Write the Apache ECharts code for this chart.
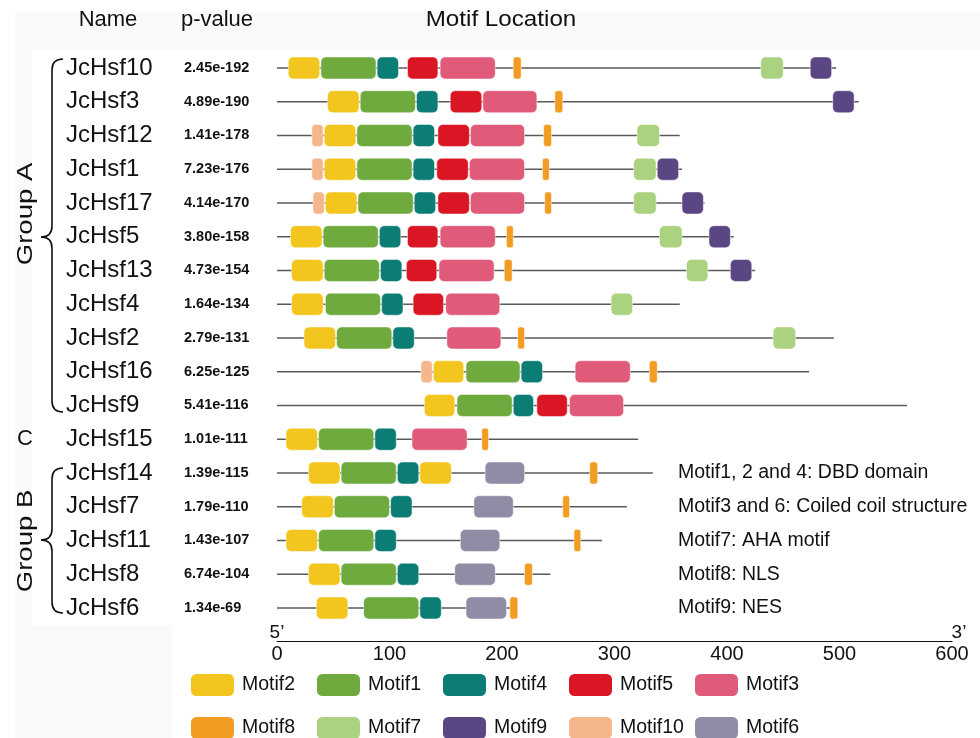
<!DOCTYPE html>
<html>
<head>
<meta charset="utf-8">
<script src="https://cdn.jsdelivr.net/npm/echarts@6/dist/echarts.min.js"></script>
<style>
  html, body { margin: 0; padding: 0; background: #ffffff; }
  #chart { width: 980px; height: 738px; }
</style>
</head>
<body>
<div id="chart"></div>
<script>
// Hsf protein names, top to bottom
const genes = ['JcHsf10', 'JcHsf3', 'JcHsf12', 'JcHsf1', 'JcHsf17', 'JcHsf5', 'JcHsf13', 'JcHsf4',
  'JcHsf2', 'JcHsf16', 'JcHsf9', 'JcHsf15', 'JcHsf14', 'JcHsf7', 'JcHsf11', 'JcHsf8', 'JcHsf6'];

// combined motif p-values
const pValues = ['2.45e-192', '4.89e-190', '1.41e-178', '7.23e-176', '4.14e-170', '3.80e-158', '4.73e-154',
  '1.64e-134', '2.79e-131', '6.25e-125', '5.41e-116', '1.01e-111', '1.39e-115', '1.79e-110', '1.43e-107',
  '6.74e-104', '1.34e-69'];

// protein length (aa)
const seqLengths = [497, 517, 358, 360, 380, 406, 425, 358, 495, 473, 560, 321, 334, 311, 289, 243, 214];

// motif hits per protein: [motif number, start, end]
const motifHits = [
  [[2, 10, 38], [1, 39, 88], [4, 89, 108], [5, 116, 143], [3, 145, 194], [8, 210, 217], [7, 430, 450], [9, 474, 493]],
  [[2, 45, 73], [1, 74, 123], [4, 124, 143], [5, 154, 182], [3, 183, 231], [8, 247, 254], [9, 494, 513]],
  [[10, 31, 41], [2, 42, 70], [1, 71, 120], [4, 121, 140], [5, 143, 171], [3, 172, 220], [8, 237, 244], [7, 320, 340]],
  [[10, 31, 41], [2, 42, 70], [1, 71, 120], [4, 121, 140], [5, 142, 170], [3, 171, 220], [8, 236, 242], [7, 317, 337], [9, 338, 357]],
  [[10, 32, 42], [2, 43, 71], [1, 72, 121], [4, 122, 141], [5, 143, 171], [3, 172, 220], [8, 238, 244], [7, 317, 337], [9, 360, 379]],
  [[2, 12, 40], [1, 41, 90], [4, 91, 110], [5, 116, 143], [3, 145, 194], [8, 204, 210], [7, 340, 360], [9, 384, 403]],
  [[2, 13, 41], [1, 42, 91], [4, 92, 111], [5, 115, 142], [3, 144, 193], [8, 202, 209], [7, 364, 383], [9, 403, 422]],
  [[2, 13, 41], [1, 43, 92], [4, 93, 112], [5, 121, 148], [3, 150, 198], [7, 297, 316]],
  [[2, 24, 52], [1, 53, 102], [4, 103, 122], [3, 151, 199], [8, 214, 220], [7, 441, 461]],
  [[10, 128, 138], [2, 139, 166], [1, 168, 216], [4, 217, 236], [3, 265, 314], [8, 331, 338]],
  [[2, 131, 158], [1, 160, 209], [4, 210, 228], [5, 231, 258], [3, 260, 308]],
  [[2, 8, 36], [1, 37, 86], [4, 87, 106], [3, 120, 169], [8, 182, 188]],
  [[2, 28, 56], [1, 57, 106], [4, 107, 126], [2, 127, 155], [6, 185, 220], [8, 278, 285]],
  [[2, 22, 50], [1, 51, 100], [4, 101, 120], [6, 175, 210], [8, 254, 260]],
  [[2, 8, 36], [1, 37, 86], [4, 87, 106], [6, 163, 198], [8, 264, 270]],
  [[2, 28, 56], [1, 57, 106], [4, 107, 126], [6, 158, 194], [8, 220, 227]],
  [[2, 35, 63], [1, 77, 126], [4, 127, 146], [6, 168, 204], [8, 207, 214]]
];

// legend order, two rows
const legendRow1 = [2, 1, 4, 5, 3];
const legendRow2 = [8, 7, 9, 10, 6];

// axis ticks
const axisMin = 0, axisMax = 600, axisStep = 100;

// functional annotation notes
const notes = ['Motif1, 2 and 4: DBD domain', 'Motif3 and 6: Coiled coil structure', 'Motif7: AHA motif',
  'Motif8: NLS', 'Motif9: NES'];

const palette = {
  1: '#6EAA3E', 2: '#F2C61F', 3: '#E05A7A', 4: '#0C7D74', 5: '#DA1624',
  6: '#908CA6', 7: '#ABD27F', 8: '#F39C22', 9: '#5A4682', 10: '#F4B68A'
};

const FONT = '"Liberation Sans", Arial, Helvetica, sans-serif';
const BOX_H = 22;

const chart = echarts.init(document.getElementById('chart'), null, { renderer: 'canvas' });

// backbone line for each protein
const backboneSeries = {
  type: 'custom',
  name: 'backbone',
  silent: true,
  z: 1,
  encode: { x: [0, 1], y: 2 },
  data: seqLengths.map((len, i) => [0, len, i]),
  renderItem: function (params, api) {
    const a = api.coord([api.value(0), api.value(2)]);
    const b = api.coord([api.value(1), api.value(2)]);
    return {
      type: 'line',
      shape: { x1: a[0], y1: a[1], x2: b[0], y2: b[1] },
      style: { stroke: '#5a5a5a', lineWidth: 1.5 }
    };
  }
};

// one series per motif
function motifSeries(m) {
  const data = [];
  motifHits.forEach((hits, gi) => {
    hits.forEach(h => { if (h[0] === m) data.push([h[1], h[2], gi]); });
  });
  return {
    type: 'custom',
    name: 'Motif' + m,
    z: 2,
    itemStyle: { color: palette[m] },
    encode: { x: [0, 1], y: 2 },
    data: data,
    renderItem: function (params, api) {
      const a = api.coord([api.value(0), api.value(2)]);
      const b = api.coord([api.value(1), api.value(2)]);
      const w = b[0] - a[0];
      return {
        type: 'rect',
        shape: { x: a[0], y: a[1] - BOX_H / 2, width: w, height: BOX_H, r: Math.min(5, w / 3) },
        style: { fill: palette[m], stroke: 'rgba(255,255,255,0.6)', lineWidth: 0.8 }
      };
    }
  };
}

// name and p-value columns
const labelSeries = {
  type: 'custom',
  name: 'labels',
  silent: true,
  z: 3,
  encode: { x: 0, y: 1 },
  data: genes.map((g, i) => [0, i]),
  renderItem: function (params, api) {
    const i = api.value(1);
    const y = api.coord([0, i])[1];
    return {
      type: 'group',
      children: [
        { type: 'text', x: 66, y: y, style: { text: genes[i], fontSize: 24, fontFamily: FONT, fill: '#111', verticalAlign: 'middle', align: 'left' } },
        { type: 'text', x: 184, y: y, style: { text: pValues[i], fontSize: 14.5, fontWeight: 'bold', fontFamily: FONT, fill: '#111', verticalAlign: 'middle', align: 'left' } }
      ]
    };
  }
};

const allMotifs = legendRow1.concat(legendRow2);

// one legend block per motif so every column has the same pitch
const legends = [];
[legendRow1, legendRow2].forEach((row, r) => {
  row.forEach((m, k) => {
    legends.push({
      left: 191 + k * 126,
      top: r === 0 ? 674 : 717,
      orient: 'horizontal',
      itemWidth: 43,
      itemHeight: 22,
      itemGap: 0,
      padding: 0,
      icon: 'roundRect',
      selectedMode: false,
      data: ['Motif' + m],
      textStyle: { fontSize: 19.5, fontFamily: FONT, color: '#111', padding: [0, 0, 0, 3] }
    });
  });
});

// curly bracket built from straight runs and quadratic curves
function brace(xTip, xBar, xEnd, yTop, yMid, yBot, r) {
  const st = { stroke: '#111', lineWidth: 1.6, fill: null };
  const q = (x1, y1, cx, cy, x2, y2) => ({ type: 'bezierCurve', shape: { x1, y1, x2, y2, cpx1: cx, cpy1: cy }, style: st });
  const l = (x1, y1, x2, y2) => ({ type: 'line', shape: { x1, y1, x2, y2 }, style: st });
  return {
    type: 'group',
    children: [
      q(xEnd, yTop, xBar, yTop, xBar, yTop + r),
      l(xBar, yTop + r, xBar, yMid - r),
      q(xBar, yMid - r, xBar, yMid, xTip, yMid),
      q(xTip, yMid, xBar, yMid, xBar, yMid + r),
      l(xBar, yMid + r, xBar, yBot - r),
      q(xBar, yBot - r, xBar, yBot, xEnd, yBot)
    ]
  };
}

const headStyle = { fontSize: 22, fontFamily: FONT, fill: '#111', align: 'center', verticalAlign: 'middle' };
const groupStyle = { fontSize: 21.5, fontFamily: FONT, fill: '#111', align: 'center', verticalAlign: 'middle' };

const graphics = [
  { type: 'rect', z: -10, silent: true, shape: { x: 15, y: 12, width: 965, height: 726 }, style: { fill: '#fafafa' } },
  { type: 'rect', z: -9, silent: true, shape: { x: 172, y: 50, width: 808, height: 688 }, style: { fill: '#ffffff' } },
  { type: 'rect', z: -9, silent: true, shape: { x: 32, y: 50, width: 140, height: 575 }, style: { fill: '#ffffff' } },
  { type: 'text', x: 108, y: 20, style: Object.assign({ text: 'Name' }, headStyle) },
  { type: 'text', x: 217, y: 20, style: Object.assign({ text: 'p-value' }, headStyle) },
  { type: 'text', x: 501, y: 20, scaleX: 1.1, style: Object.assign({ text: 'Motif Location' }, headStyle) },
  brace(41, 52, 63, 59, 237, 412, 11),
  brace(41, 52, 63, 468, 540, 613, 11),
  { type: 'text', x: 26, y: 214, rotation: Math.PI / 2, scaleX: 1.28, style: Object.assign({ text: 'Group A' }, groupStyle) },
  { type: 'text', x: 26, y: 541, rotation: Math.PI / 2, scaleX: 1.28, style: Object.assign({ text: 'Group B' }, groupStyle) },
  { type: 'text', x: 25, y: 439, style: { text: 'C', fontSize: 22, fontFamily: FONT, fill: '#111', align: 'center', verticalAlign: 'middle' } },
  { type: 'text', x: 277, y: 633, style: { text: '5\u2019', fontSize: 19, fontFamily: FONT, fill: '#111', align: 'center', verticalAlign: 'middle' } },
  { type: 'text', x: 959, y: 633, style: { text: '3\u2019', fontSize: 19, fontFamily: FONT, fill: '#111', align: 'center', verticalAlign: 'middle' } }
];
notes.forEach((t, k) => {
  graphics.push({ type: 'text', x: 678, y: 473 + k * 33.75, style: { text: t, fontSize: 19.5, fontFamily: FONT, fill: '#111', align: 'left', verticalAlign: 'middle' } });
});

const option = {
  backgroundColor: '#ffffff',
  animation: false,
  grid: { left: 277, right: 28, top: 51.1, height: 573.75, containLabel: false },
  xAxis: {
    type: 'value',
    min: axisMin,
    max: axisMax,
    interval: axisStep,
    offset: 16,
    axisLine: { show: true, lineStyle: { color: '#111', width: 1.2 } },
    axisTick: { show: false },
    splitLine: { show: false },
    axisLabel: { fontSize: 20, fontFamily: FONT, color: '#111', margin: 4 }
  },
  yAxis: {
    type: 'category',
    data: genes,
    inverse: true,
    axisLine: { show: false },
    axisTick: { show: false },
    axisLabel: { show: false },
    splitLine: { show: false }
  },
  legend: legends,
  graphic: graphics,
  series: [backboneSeries].concat(allMotifs.map(motifSeries)).concat([labelSeries])
};

chart.setOption(option);
</script>
</body>
</html>
